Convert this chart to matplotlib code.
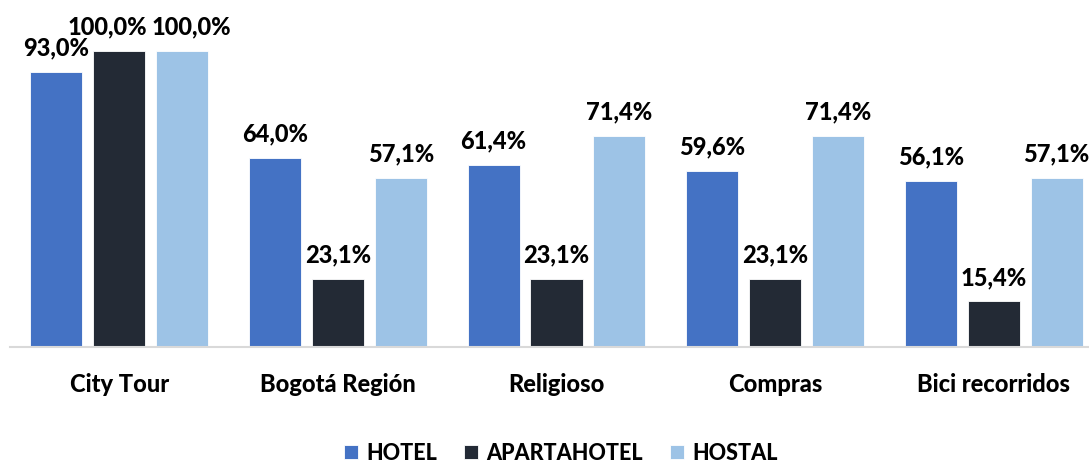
import numpy as np
import matplotlib.pyplot as plt

categories = ['City Tour', 'Bogotá Región', 'Religioso', 'Compras', 'Bici recorridos']
series = ['HOTEL', 'APARTAHOTEL', 'HOSTAL']
hotel = [93.0, 64.0, 61.4, 59.6, 56.1]
apartahotel = [100.0, 23.1, 23.1, 23.1, 15.4]
hostal = [100.0, 57.1, 71.4, 71.4, 57.1]
colors = ['#4472C4', '#232A35', '#9DC3E6']

plt.rcParams['font.family'] = ['Lato', 'DejaVu Sans']
plt.rcParams['font.weight'] = 'black'

fig = plt.figure(figsize=(10.89, 4.63), dpi=100)
ax = fig.add_axes([10 / 1089, 116 / 463, 1093 / 1089, 327 / 463])

x = np.arange(len(categories))
width = 0.238
step = 0.288
values = [hotel, apartahotel, hostal]

# nudges for the crowded labels on the first group (points)
nudge = {(1, 0): -8.6, (2, 0): 6.5}

for i, (name, vals, col) in enumerate(zip(series, values, colors)):
    pos = x + (i - 1) * step
    ax.bar(pos, vals, width, color=col, label=name, edgecolor='white', linewidth=0.6)
    for j, (p, v) in enumerate(zip(pos, vals)):
        ax.annotate(('%.1f%%' % v).replace('.', ','), (p, v),
                    xytext=(nudge.get((i, j), 0), 9), textcoords='offset points',
                    ha='center', va='bottom', fontsize=17, fontweight='black')

ax.set_xlim(-0.5, len(categories) - 0.5)
ax.set_ylim(0, 110.5)
ax.set_yticks([])
ax.set_xticks(x)
ax.set_xticklabels(categories, fontsize=17, fontweight='black')
ax.tick_params(axis='x', length=0, pad=19)
for s in ['top', 'right', 'left']:
    ax.spines[s].set_visible(False)
ax.spines['bottom'].set_color('#D9D9D9')
ax.spines['bottom'].set_linewidth(1.5)

fig.legend(loc='center', bbox_to_anchor=(561 / 1089, 1 - 453 / 463), ncol=3, frameon=False,
           handlelength=0.65, handleheight=0.65, handletextpad=0.4,
           columnspacing=1.25, prop={'weight': 'black', 'size': 15.5})

plt.savefig('out.png', dpi=100)
